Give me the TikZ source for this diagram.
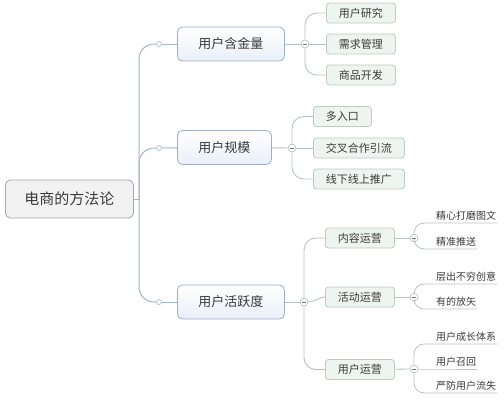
\documentclass[tikz,border=0pt]{standalone}
\usepackage{fontspec}
\setmainfont{Noto Sans CJK SC}
\usepackage{tikz}
\definecolor{ink}{HTML}{3A3A3A}
\definecolor{rootfill}{HTML}{F2F2F2}
\definecolor{rootline}{HTML}{A6A6A6}
\definecolor{topfill}{HTML}{E9EFF8}
\definecolor{topline}{HTML}{9DAEC6}
\definecolor{subfill}{HTML}{EEF4F0}
\definecolor{subline}{HTML}{BCCBC3}
\definecolor{trunkc}{HTML}{A3B4CB}
\definecolor{branchc}{HTML}{B7C3C0}

\begin{document}
\begin{tikzpicture}[x=1pt, y=-1pt, every node/.style={text=ink, inner sep=0pt},
  rootbox/.style={draw=rootline, fill=rootfill, rounded corners=5pt, line width=0.8pt, inner xsep=19pt, minimum height=38pt, font=\fontsize{15}{15}\selectfont},
  topbox/.style={draw=topline, top color=white, bottom color=topfill, rounded corners=5pt, line width=0.8pt, inner xsep=21pt, minimum height=34pt, font=\fontsize{13}{13}\selectfont},
  subbox/.style={draw=subline, fill=subfill, rounded corners=3pt, line width=0.8pt, inner xsep=12.5pt, minimum height=20pt, font=\fontsize{11}{11}\selectfont},
  leaf/.style={inner xsep=1pt, inner ysep=2.5pt, font=\fontsize{10}{10}\selectfont},
  dot/.style={circle, draw=trunkc, fill=white, line width=0.6pt, minimum size=5pt},
  minus/.style={circle, draw=branchc, fill=white, line width=0.7pt, minimum size=8pt,
    path picture={\draw[ink!70, line width=0.6pt] ([xshift=-2pt]path picture bounding box.center) -- ([xshift=2pt]path picture bounding box.center);}},
  trunk/.style={draw=trunkc, line width=1pt},
  branch/.style={draw=branchc, line width=0.9pt},
  twig/.style={draw=branchc, line width=0.8pt}]
  \useasboundingbox (0,0) rectangle (504,400);

  \node[rootbox, anchor=west] (root) at (5,199) {电商的方法论};
  \coordinate (fork) at (139,199);

  \node[dot] (d1) at (159,44) {};
  \node[dot] (d2) at (159,148) {};
  \node[dot] (d3) at (159,302) {};
  \node[topbox, anchor=west] (gold) at (177,44) {用户含金量};
  \node[topbox, anchor=west] (scale) at (177,147.5) {用户规模};
  \node[topbox, anchor=west] (active) at (177,302) {用户活跃度};

  \node[minus] (m1) at (305,44) {};
  \node[minus] (m2) at (292,148) {};
  \node[minus] (m3) at (304,302) {};

  \node[subbox, anchor=west] (research) at (326,13) {用户研究};
  \node[subbox, anchor=west] (demand) at (326,44) {需求管理};
  \node[subbox, anchor=west] (goods) at (326,75) {商品开发};
  \node[subbox, anchor=west] (entry) at (313,116.5) {多入口};
  \node[subbox, anchor=west] (cross) at (313,148) {交叉合作引流};
  \node[subbox, anchor=west] (offline) at (313,179) {线下线上推广};
  \node[subbox, anchor=west] (content) at (325,238) {内容运营};
  \node[subbox, anchor=west] (event) at (325,297) {活动运营};
  \node[subbox, anchor=west] (userop) at (325,369.5) {用户运营};

  \node[minus] (m4) at (414,238) {};
  \node[minus] (m5) at (414,297) {};
  \node[minus] (m6) at (414,369) {};

  \node[leaf, anchor=south west] (polish) at (435,223) {精心打磨图文};
  \node[leaf, anchor=south west] (push) at (435,249) {精准推送};
  \node[leaf, anchor=south west] (idea) at (435,284) {层出不穷创意};
  \node[leaf, anchor=south west] (aim) at (435,309) {有的放矢};
  \node[leaf, anchor=south west] (growth) at (435,344) {用户成长体系};
  \node[leaf, anchor=south west] (recall) at (435,369) {用户召回};
  \node[leaf, anchor=south west] (churn) at (435,393) {严防用户流失};

  \draw[trunk] (root) -- (fork);
  \draw[trunk, rounded corners=15pt] (fork) |- (d1);
  \draw[trunk, rounded corners=15pt] (fork) |- (d2);
  \draw[trunk, rounded corners=15pt] (fork) |- (d3);
  \draw[trunk] (d1) -- (gold);
  \draw[trunk] (d2) -- (scale);
  \draw[trunk] (d3) -- (active);

  \draw[branch] (gold) -- (m1);
  \draw[branch] (scale) -- (m2);
  \draw[branch] (active) -- (m3);

  \draw[branch, rounded corners=12pt] (m1) |- (research);
  \draw[branch] (m1) -- (demand);
  \draw[branch, rounded corners=12pt] (m1) |- (goods);
  \draw[branch, rounded corners=12pt] (m2) |- (entry);
  \draw[branch] (m2) -- (cross);
  \draw[branch, rounded corners=12pt] (m2) |- (offline);
  \draw[branch, rounded corners=12pt] (m3) |- (content);
  \draw[branch] (m3.east) to[out=0, in=180] (event.west);
  \draw[branch, rounded corners=12pt] (m3) |- (userop);

  \draw[twig] (content) -- (m4);
  \draw[twig] (event) -- (m5);
  \draw[twig] (userop) -- (m6);

  \draw[twig, rounded corners=10pt] (m4) |- (polish.south west) -- (polish.south east);
  \draw[twig, rounded corners=10pt] (m4) |- (push.south west) -- (push.south east);
  \draw[twig, rounded corners=10pt] (m5) |- (idea.south west) -- (idea.south east);
  \draw[twig, rounded corners=10pt] (m5) |- (aim.south west) -- (aim.south east);
  \draw[twig, rounded corners=10pt] (m6) |- (growth.south west) -- (growth.south east);
  \draw[twig] (m6) -- (recall.south west) -- (recall.south east);
  \draw[twig, rounded corners=10pt] (m6) |- (churn.south west) -- (churn.south east);
\end{tikzpicture}
\end{document}
